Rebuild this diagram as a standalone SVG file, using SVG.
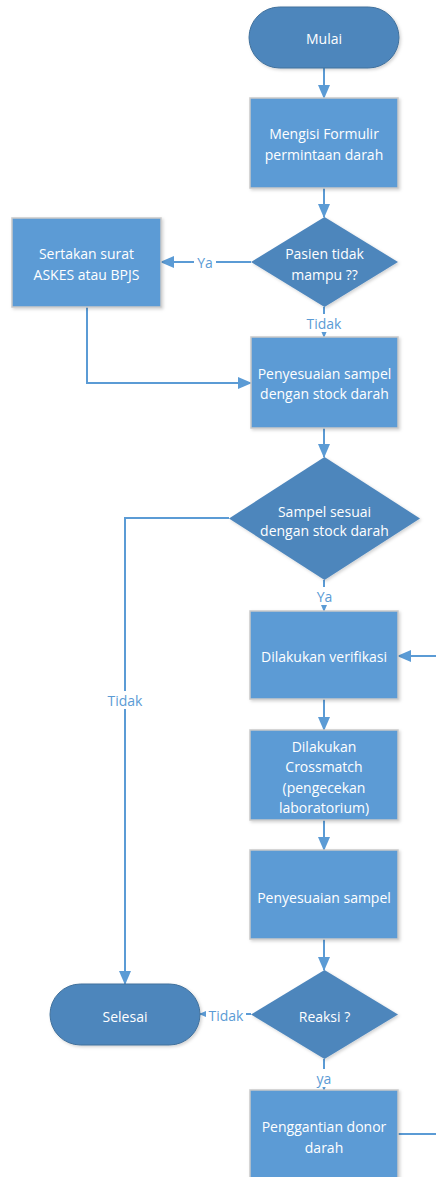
<svg xmlns="http://www.w3.org/2000/svg" width="436" height="1177" viewBox="0 0 436 1177">
<style>
.box{fill:#5B9BD5;stroke:#C9C9C9;stroke-width:1.5;filter:url(#sh)}
.dark{fill:#4E86BC;stroke:#41719C;stroke-width:1;filter:url(#sh)}
.dia{fill:#4E86BC;stroke:none;filter:url(#sh)}
.t{font-family:"Open Sans","Liberation Sans",sans-serif;font-size:14px;fill:#FFFFFF;text-anchor:middle;dominant-baseline:central}
.c{fill:none;stroke:#5B9BD5;stroke-width:2;marker-end:url(#ah)}
.lb{font-family:"Open Sans","Liberation Sans",sans-serif;font-size:14px;fill:#5B9BD5;text-anchor:middle;dominant-baseline:central}
.lbg{fill:#FFFFFF}
</style>
<defs>
<marker id="ah" viewBox="0 0 14 12" markerWidth="14" markerHeight="12" refX="13" refY="6" orient="auto" markerUnits="userSpaceOnUse">
<path d="M0,0 L14,6 L0,12 z" fill="#5B9BD5"/>
</marker>
<filter id="sh" x="-10%" y="-10%" width="130%" height="130%">
<feDropShadow dx="1.5" dy="1.5" stdDeviation="1.5" flood-color="#000000" flood-opacity="0.18"/>
</filter>
</defs>
<rect width="436" height="1177" fill="#FFFFFF"/>
<g id="connectors">
<line class="c" x1="324" y1="68" x2="324" y2="98"/>
<line class="c" x1="324" y1="188" x2="324" y2="217"/>
<line class="c" x1="251" y1="262" x2="161" y2="262"/>
<line class="c" x1="324" y1="307" x2="324" y2="337"/>
<path class="c" d="M87,307 V383 H251"/>
<line class="c" x1="324" y1="428" x2="324" y2="457"/>
<line class="c" x1="324" y1="580" x2="324" y2="611"/>
<path class="c" d="M229,518 H125 V984"/>
<line class="c" x1="324" y1="699" x2="324" y2="730"/>
<line class="c" x1="324" y1="820" x2="324" y2="850"/>
<line class="c" x1="324" y1="939" x2="324" y2="970"/>
<line class="c" x1="251" y1="1014" x2="200" y2="1014"/>
<line class="c" x1="324" y1="1059" x2="324" y2="1090"/>
<path class="c" d="M398,1134 H442 V656 H398"/>
<rect class="lbg" x="194" y="254" width="22" height="17"/>
<text class="lb" x="205" y="262">Ya</text>
<rect class="lbg" x="305" y="314" width="39" height="18"/>
<text class="lb" x="324" y="323">Tidak</text>
<rect class="lbg" x="313" y="587" width="23" height="18"/>
<text class="lb" x="324.5" y="596">Ya</text>
<rect class="lbg" x="106" y="691" width="39" height="18"/>
<text class="lb" x="125" y="700">Tidak</text>
<rect class="lbg" x="206" y="1006" width="40" height="18"/>
<text class="lb" x="226" y="1015">Tidak</text>
<rect class="lbg" x="314" y="1069" width="21" height="18"/>
<text class="lb" x="324" y="1078">ya</text>
</g>
<g id="mulai">
<rect class="dark" x="249" y="7" width="150" height="61" rx="30.5"/>
<text class="t" x="324" y="38">Mulai</text>
</g>
<g id="mengisi">
<rect class="box" x="250" y="98" width="148" height="90"/>
<text class="t" x="324" y="133">Mengisi Formulir</text>
<text class="t" x="324" y="154">permintaan darah</text>
</g>
<g id="pasien">
<polygon class="dia" points="324.5,217 398,262 324.5,307 251,262"/>
<text class="t" x="324.5" y="253">Pasien tidak</text>
<text class="t" x="324.5" y="274">mampu ??</text>
</g>
<g id="sertakan">
<rect class="box" x="12" y="218" width="149" height="89"/>
<text class="t" x="86.5" y="253">Sertakan surat</text>
<text class="t" x="86.5" y="274">ASKES atau BPJS</text>
</g>
<g id="penyesuaian1">
<rect class="box" x="251" y="337" width="147" height="91"/>
<text class="t" x="324.5" y="373">Penyesuaian sampel</text>
<text class="t" x="324.5" y="393">dengan stock darah</text>
</g>
<g id="sampel">
<polygon class="dia" points="324.5,457 420,518.5 324.5,580 229,518.5"/>
<text class="t" x="324.5" y="511">Sampel sesuai</text>
<text class="t" x="324.5" y="530">dengan stock darah</text>
</g>
<g id="verifikasi">
<rect class="box" x="250" y="611" width="148" height="88"/>
<text class="t" x="324" y="656">Dilakukan verifikasi</text>
</g>
<g id="crossmatch">
<rect class="box" x="250" y="730" width="148" height="90"/>
<text class="t" x="324" y="746">Dilakukan</text>
<text class="t" x="324" y="766">Crossmatch</text>
<text class="t" x="324" y="787">(pengecekan</text>
<text class="t" x="324" y="807">laboratorium)</text>
</g>
<g id="penyesuaian2">
<rect class="box" x="250" y="850" width="148" height="89"/>
<text class="t" x="324" y="897">Penyesuaian sampel</text>
</g>
<g id="reaksi">
<polygon class="dia" points="324.5,970 398,1014.5 324.5,1059 251,1014.5"/>
<text class="t" x="324.5" y="1016">Reaksi ?</text>
</g>
<g id="selesai">
<rect class="dark" x="50" y="984" width="150" height="61" rx="30.5"/>
<text class="t" x="125" y="1016">Selesai</text>
</g>
<g id="penggantian">
<rect class="box" x="250" y="1090" width="148" height="95"/>
<text class="t" x="324" y="1126">Penggantian donor</text>
<text class="t" x="324" y="1147">darah</text>
</g>
</svg>
